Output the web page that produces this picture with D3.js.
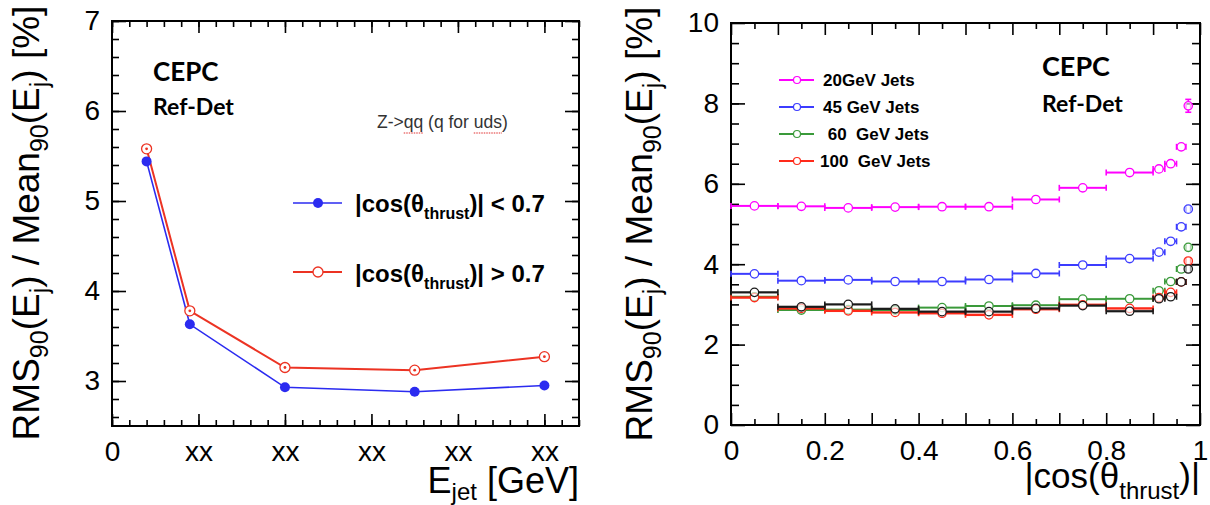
<!DOCTYPE html>
<html>
<head>
<meta charset="utf-8">
<script src="https://cdnjs.cloudflare.com/ajax/libs/d3/7.8.5/d3.min.js"></script>
<style>
  body { margin: 0; background: #fff; }
  svg { display: block; font-family: "Liberation Sans", Arial, sans-serif; }
</style>
</head>
<body>
<div><svg width="1210" height="505"></svg></div>
<script>
// left panel: resolution vs jet energy
let energyGeV = [20, 45, 100, 175, 250];
let rmsCentral = [5.44, 3.63, 2.93, 2.88, 2.95];   // |cos| < 0.7
let rmsForward = [5.58, 3.78, 3.15, 3.12, 3.27];   // |cos| > 0.7
let leftXTicks = [0, 50, 100, 150, 200, 250];
let leftXLabels = ["0", "xx", "xx", "xx", "xx", "xx"];
let leftYTicks = [3, 4, 5, 6, 7];

// right panel: resolution vs |cos(theta_thrust)|
let binLo = [0, 0.1, 0.2, 0.3, 0.4, 0.5, 0.6, 0.7, 0.8, 0.9, 0.925, 0.95, 0.97];
let binHi = [0.1, 0.2, 0.3, 0.4, 0.5, 0.6, 0.7, 0.8, 0.9, 0.925, 0.95, 0.97, 0.98];
let jets20  = [5.45, 5.44, 5.40, 5.42, 5.43, 5.43, 5.61, 5.90, 6.28, 6.37, 6.50, 6.92, 7.94];
let jets45  = [3.76, 3.59, 3.61, 3.57, 3.57, 3.62, 3.77, 3.98, 4.14, 4.30, 4.57, 4.93, 5.37];
let jets60  = [3.19, 2.86, 2.87, 2.86, 2.92, 2.96, 2.98, 3.13, 3.14, 3.34, 3.57, 3.88, 4.42];
let jets100 = [3.17, 2.90, 2.84, 2.80, 2.78, 2.74, 2.88, 2.99, 2.90, 3.17, 3.30, 3.56, 4.08];
let jetsUnlabelled = [3.30, 2.94, 3.00, 2.89, 2.82, 2.82, 2.90, 2.97, 2.83, 3.14, 3.19, 3.56, 3.88];
let err20  = [0.02, 0.02, 0.02, 0.02, 0.02, 0.02, 0.02, 0.02, 0.02, 0.05, 0.05, 0.08, 0.16];
let err45  = [0.02, 0.02, 0.02, 0.02, 0.02, 0.02, 0.02, 0.02, 0.02, 0.04, 0.04, 0.05, 0.1];
let errLow = [0.02, 0.02, 0.02, 0.02, 0.02, 0.02, 0.02, 0.02, 0.02, 0.03, 0.03, 0.04, 0.06];
let rightXTicks = [0, 0.2, 0.4, 0.6, 0.8, 1];
let rightYTicks = [0, 2, 4, 6, 8, 10];
let legendNames = ["20GeV Jets", "45 GeV Jets", " 60  GeV Jets", "100  GeV Jets"];

let svg = d3.select("svg");
svg.append("rect").attr("width", 1210).attr("height", 505).attr("fill", "#fff");

// ROOT-style inward ticks on all four sides
function frameTicks(g, x, y, xMajor, xMinor, yMajor, yMinor, xLab, yLab, xLen, yLen) {
    let w = x.range()[1] - x.range()[0], h = y.range()[0] - y.range()[1];
    let x0 = x.range()[0], yTop = y.range()[1], yBot = y.range()[0];
    let styleAxis = function(a) {
        a.select(".domain").remove();
        a.selectAll("line").attr("stroke", "#000").attr("stroke-width", 1.6);
        a.selectAll("text").attr("font-size", 28).attr("fill", "#000")
            .attr("font-family", "Liberation Sans, Arial, sans-serif");
    };
    g.append("g").attr("transform", "translate(0," + yBot + ")")
        .call(d3.axisBottom(x).tickValues(xMinor).tickSizeInner(-xLen[1]).tickSizeOuter(0).tickFormat("")).call(styleAxis);
    g.append("g").attr("transform", "translate(0," + yBot + ")")
        .call(d3.axisBottom(x).tickValues(xMajor).tickSizeInner(-xLen[0]).tickSizeOuter(0).tickPadding(15).tickFormat(xLab)).call(styleAxis);
    g.append("g").attr("transform", "translate(0," + yTop + ")")
        .call(d3.axisTop(x).tickValues(xMinor).tickSizeInner(-xLen[1]).tickSizeOuter(0).tickFormat("")).call(styleAxis);
    g.append("g").attr("transform", "translate(0," + yTop + ")")
        .call(d3.axisTop(x).tickValues(xMajor).tickSizeInner(-xLen[0]).tickSizeOuter(0).tickFormat("")).call(styleAxis);
    g.append("g").attr("transform", "translate(" + x0 + ",0)")
        .call(d3.axisLeft(y).tickValues(yMinor).tickSizeInner(-yLen[1]).tickSizeOuter(0).tickFormat("")).call(styleAxis);
    g.append("g").attr("transform", "translate(" + x0 + ",0)")
        .call(d3.axisLeft(y).tickValues(yMajor).tickSizeInner(-yLen[0]).tickSizeOuter(0).tickPadding(12).tickFormat(yLab)).call(styleAxis);
    g.append("g").attr("transform", "translate(" + (x0 + w) + ",0)")
        .call(d3.axisRight(y).tickValues(yMinor).tickSizeInner(-yLen[1]).tickSizeOuter(0).tickFormat("")).call(styleAxis);
    g.append("g").attr("transform", "translate(" + (x0 + w) + ",0)")
        .call(d3.axisRight(y).tickValues(yMajor).tickSizeInner(-yLen[0]).tickSizeOuter(0).tickFormat("")).call(styleAxis);
    g.append("rect").attr("x", x0).attr("y", yTop).attr("width", w).attr("height", h)
        .attr("fill", "none").attr("stroke", "#000").attr("stroke-width", 2);
}

function yTitle(x, yc) {
    let t = svg.append("text")
        .attr("transform", "translate(" + x + "," + yc + ") rotate(-90)")
        .attr("text-anchor", "middle").attr("font-size", 37).attr("fill", "#000");
    let parts = [["RMS", 0], ["90", 1], ["(E", 0], ["j", 1], [") / Mean", 0], ["90", 1], ["(E", 0], ["j", 1], [") [%]", 0]];
    let shifted = false;
    parts.forEach(function(p) {
        let s = t.append("tspan").text(p[0]).style("white-space", "pre");
        if (p[1]) { s.attr("font-size", 25).attr("dy", shifted ? 0 : 9); shifted = true; }
        else if (shifted) { s.attr("dy", -9); shifted = false; }
    });
}

// ---------------- left panel ----------------
let xL = d3.scaleLinear().domain([0, 270]).range([112, 579]);
let yL = d3.scaleLinear().domain([2.5, 7]).range([426, 21]);
let gL = svg.append("g");

frameTicks(gL, xL, yL, leftXTicks, d3.range(0, 271, 10), leftYTicks, d3.range(2.6, 7.01, 0.2),
    function(d, i) { return leftXLabels[leftXTicks.indexOf(d)]; }, d3.format("d"), [12, 6], [14, 7]);

let lineL = d3.line().x(function(d) { return xL(d[0]); }).y(function(d) { return yL(d[1]); });
let blue = "#2b2bf0", red = "#ec3323";
gL.append("path").datum(d3.zip(energyGeV, rmsForward)).attr("d", lineL)
    .attr("fill", "none").attr("stroke", red).attr("stroke-width", 2);
gL.append("path").datum(d3.zip(energyGeV, rmsCentral)).attr("d", lineL)
    .attr("fill", "none").attr("stroke", blue).attr("stroke-width", 1.6);
gL.selectAll(".fwd").data(d3.zip(energyGeV, rmsForward)).enter().append("circle")
    .attr("cx", function(d) { return xL(d[0]); }).attr("cy", function(d) { return yL(d[1]); })
    .attr("r", 5).attr("fill", "#fff").attr("stroke", red).attr("stroke-width", 1.3);
gL.selectAll(".fwddot").data(d3.zip(energyGeV, rmsForward)).enter().append("circle")
    .attr("cx", function(d) { return xL(d[0]); }).attr("cy", function(d) { return yL(d[1]); })
    .attr("r", 1.4).attr("fill", red);
gL.selectAll(".cen").data(d3.zip(energyGeV, rmsCentral)).enter().append("circle")
    .attr("cx", function(d) { return xL(d[0]); }).attr("cy", function(d) { return yL(d[1]); })
    .attr("r", 5).attr("fill", blue);

// labels
gL.append("text").attr("x", 153).attr("y", 81).attr("font-family", "Lato, sans-serif")
    .attr("font-weight", "bold").attr("font-size", 26).text("CEPC");
gL.append("text").attr("x", 153).attr("y", 115).attr("font-family", "Lato, sans-serif")
    .attr("font-weight", "bold").attr("font-size", 23).text("Ref-Det");
let zt = gL.append("text").attr("x", 377).attr("y", 128).attr("font-size", 17.5).attr("fill", "#333")
    .text("Z->qq (q for uds)");
// spell-check style underlines under "qq" and "uds"
[[3, 2], [13, 3]].forEach(function(p) {
    let node = zt.node();
    let sx = node.getStartPositionOfChar(p[0]).x;
    let len = node.getSubStringLength(p[0], p[1]);
    gL.append("line").attr("x1", sx).attr("x2", sx + len).attr("y1", 133).attr("y2", 133)
        .attr("stroke", "#e03030").attr("stroke-width", 1.2).attr("stroke-dasharray", "1.5,1");
});

// legend
function thrustLabel(g, x, y, rest) {
    let t = g.append("text").attr("x", x).attr("y", y).attr("font-weight", "bold").attr("font-size", 24);
    t.append("tspan").text("|cos(θ");
    t.append("tspan").attr("font-size", 16).attr("dy", 7).text("thrust");
    t.append("tspan").attr("dy", -7).text(")| " + rest);
}
gL.append("line").attr("x1", 293).attr("x2", 342).attr("y1", 203).attr("y2", 203).attr("stroke", blue).attr("stroke-width", 1.6);
gL.append("circle").attr("cx", 318).attr("cy", 203).attr("r", 5).attr("fill", blue);
thrustLabel(gL, 355, 212, "< 0.7");
gL.append("line").attr("x1", 293).attr("x2", 342).attr("y1", 272).attr("y2", 272).attr("stroke", red).attr("stroke-width", 2);
gL.append("circle").attr("cx", 318).attr("cy", 272).attr("r", 5).attr("fill", "#fff").attr("stroke", red).attr("stroke-width", 1.3);
thrustLabel(gL, 355, 282, "> 0.7");

yTitle(39, 223);
let xt = svg.append("text").attr("x", 579).attr("y", 493).attr("text-anchor", "end").attr("font-size", 36);
xt.append("tspan").text("E");
xt.append("tspan").attr("font-size", 24).attr("dy", 7).text("jet");
xt.append("tspan").attr("dy", -7).text(" [GeV]").style("white-space", "pre");

// ---------------- right panel ----------------
let xR = d3.scaleLinear().domain([0, 1]).range([731, 1200]);
let yR = d3.scaleLinear().domain([0, 10]).range([425, 23]);
let gR = svg.append("g");

frameTicks(gR, xR, yR, d3.range(0, 1.01, 0.1), d3.range(0.05, 1, 0.1), rightYTicks, d3.range(0.5, 10, 0.5),
    function(d) { let v = Math.round(d * 10) / 10; return (Math.round(v * 10) % 2 === 0) ? d3.format("~g")(v) : ""; },
    d3.format("d"), [12, 6], [14, 8]);

let series = [
    { vals: jets20,  err: err20,  color: "#ff00ff", w: 2 },
    { vals: jets45,  err: err45,  color: "#3c3cff", w: 2 },
    { vals: jets60,  err: errLow, color: "#3a9a3a", w: 2 },
    { vals: jets100, err: errLow, color: "#ff2a1a", w: 2.4 },
    { vals: jetsUnlabelled, err: errLow, color: "#1a1a1a", w: 2.2 }
];
let mr = 4.2;
series.forEach(function(s) {
    let pts = s.vals.map(function(v, i) { return { lo: binLo[i], hi: binHi[i], v: v, e: s.err[i] }; });
    let g = gR.append("g").attr("stroke", s.color).attr("fill", "none");
    pts.forEach(function(p) {
        let cx = xR((p.lo + p.hi) / 2), cy = yR(p.v);
        let xl = xR(p.lo), xh = xR(p.hi);
        if (cx - xl > mr) {
            g.append("line").attr("x1", xl).attr("x2", cx - mr).attr("y1", cy).attr("y2", cy).attr("stroke-width", s.w);
            g.append("line").attr("x1", cx + mr).attr("x2", xh).attr("y1", cy).attr("y2", cy).attr("stroke-width", s.w);
        }
        g.append("line").attr("x1", xl).attr("x2", xl).attr("y1", cy - 3).attr("y2", cy + 3).attr("stroke-width", 1.6);
        g.append("line").attr("x1", xh).attr("x2", xh).attr("y1", cy - 3).attr("y2", cy + 3).attr("stroke-width", 1.6);
        let ey = yR(p.v + p.e), ey2 = yR(p.v - p.e);
        if (cy - ey > mr) {
            g.append("line").attr("x1", cx).attr("x2", cx).attr("y1", ey).attr("y2", cy - mr).attr("stroke-width", 1.6);
            g.append("line").attr("x1", cx).attr("x2", cx).attr("y1", cy + mr).attr("y2", ey2).attr("stroke-width", 1.6);
            g.append("line").attr("x1", cx - 3).attr("x2", cx + 3).attr("y1", ey).attr("y2", ey).attr("stroke-width", 1.6);
            g.append("line").attr("x1", cx - 3).attr("x2", cx + 3).attr("y1", ey2).attr("y2", ey2).attr("stroke-width", 1.6);
        }
        g.append("circle").attr("cx", cx).attr("cy", cy).attr("r", mr)
            .attr("fill", "#fff").attr("fill-opacity", 0.6).attr("stroke-width", 1.3);
    });
});

// legend
let legendColors = ["#ff00ff", "#3c3cff", "#3a9a3a", "#ff2a1a"];
legendNames.forEach(function(name, i) {
    let y = 80 + i * 27;
    gR.append("line").attr("x1", 779).attr("x2", 814).attr("y1", y).attr("y2", y)
        .attr("stroke", legendColors[i]).attr("stroke-width", 2);
    gR.append("circle").attr("cx", 797).attr("cy", y).attr("r", 3.5).attr("fill", "#fff")
        .attr("stroke", legendColors[i]).attr("stroke-width", 1.2);
    gR.append("text").attr("x", i === 3 ? 820 : 823).attr("y", y + 6).attr("font-weight", "bold")
        .attr("font-size", 17).style("white-space", "pre").text(name);
});
gR.append("text").attr("x", 1042).attr("y", 76).attr("font-family", "Lato, sans-serif")
    .attr("font-weight", "bold").attr("font-size", 27).text("CEPC");
gR.append("text").attr("x", 1042).attr("y", 112).attr("font-family", "Lato, sans-serif")
    .attr("font-weight", "bold").attr("font-size", 23).text("Ref-Det");

yTitle(652, 224);
let xt2 = svg.append("text").attr("x", 1200).attr("y", 488).attr("text-anchor", "end").attr("font-size", 35);
xt2.append("tspan").text("|cos(θ");
xt2.append("tspan").attr("font-size", 24).attr("dy", 11).text("thrust");
xt2.append("tspan").attr("dy", -11).text(")|");
</script>
</body>
</html>
